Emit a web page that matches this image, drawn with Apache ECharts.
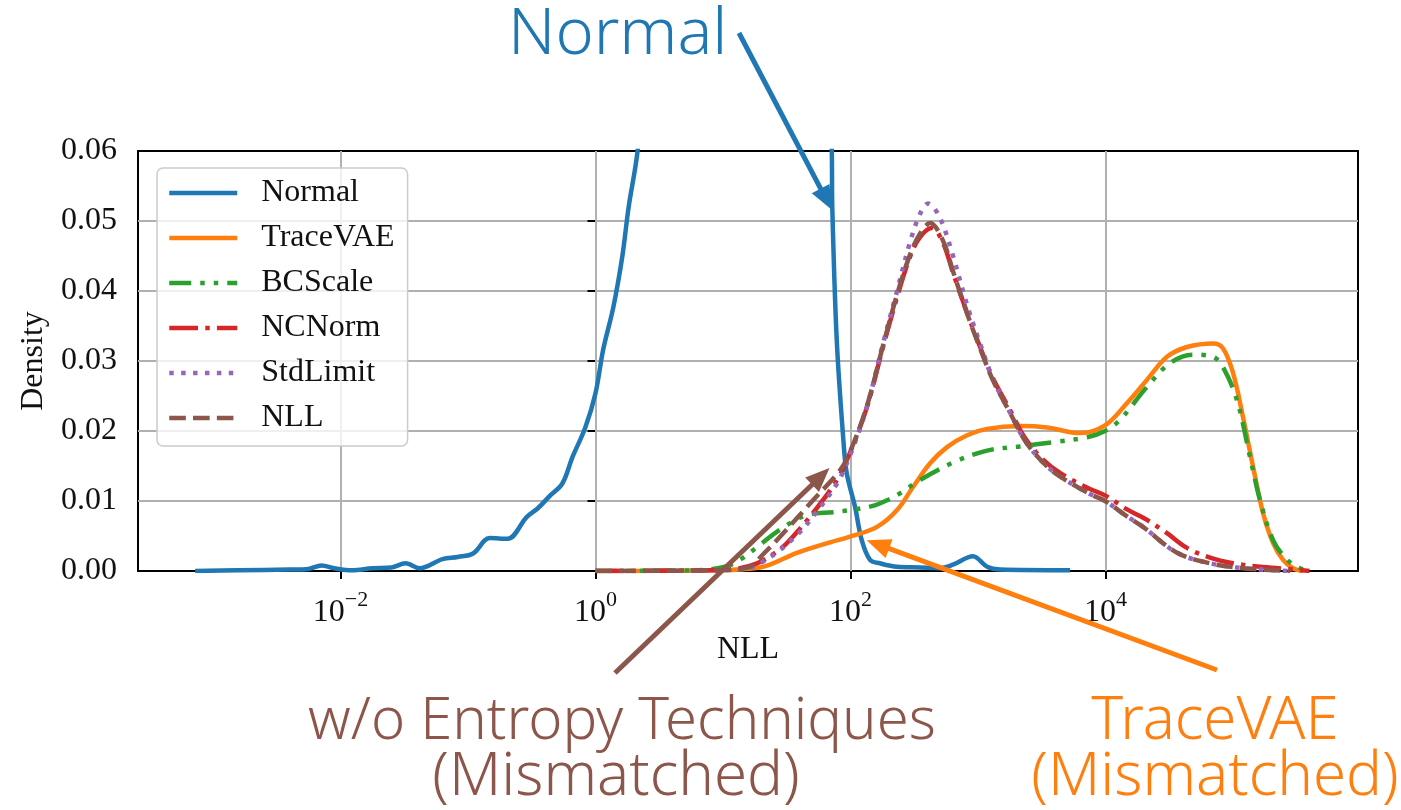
<!DOCTYPE html>
<html>
<head>
<meta charset="utf-8">
<script src="https://cdn.jsdelivr.net/npm/echarts@6/dist/echarts.min.js"></script>
<style>
  html, body { margin: 0; padding: 0; background: #fff; }
  #main { width: 1401px; height: 810px; }
</style>
</head>
<body>
<div id="main"></div>
<script>
// NLL density curves, x = log10(NLL), y = density
const xTickVals = [-2, 0, 2, 4];

const normalPts = [
  [-3.14, 0.0000], [-2.80, 0.0001], [-2.40, 0.0002], [-2.25, 0.0003], [-2.15, 0.0008],
  [-2.05, 0.0004], [-1.91, 0.0001], [-1.75, 0.0004], [-1.60, 0.0005], [-1.49, 0.0011],
  [-1.38, 0.0004], [-1.20, 0.0017], [-1.08, 0.0020], [-0.96, 0.0025], [-0.83, 0.0047],
  [-0.69, 0.0046], [-0.54, 0.0077], [-0.45, 0.0090], [-0.36, 0.0107], [-0.26, 0.0125],
  [-0.18, 0.0163], [-0.08, 0.0205], [0.00, 0.0254], [0.06, 0.0316], [0.14, 0.0377],
  [0.21, 0.0449], [0.26, 0.0520], [0.33, 0.0600], [0.55, 0.1000], [1.00, 0.1400],
  [1.50, 0.1200], [1.80, 0.0900], [1.853, 0.0600], [1.857, 0.0520], [1.892, 0.0330],
  [1.944, 0.0187], [1.970, 0.0140], [2.035, 0.0092], [2.088, 0.0044], [2.153, 0.0016],
  [2.231, 0.0011], [2.365, 0.0006], [2.545, 0.0005], [2.70, 0.0004], [2.804, 0.0009],
  [2.961, 0.0021], [3.071, 0.0006], [3.173, 0.0002], [3.722, 0.0001]
];

const traceVaePts = [
  [0.00, 0.0000], [0.90, 0.0001], [1.290, 0.0005], [1.580, 0.0026], [1.839, 0.0041],
  [1.996, 0.0049], [2.208, 0.0063], [2.365, 0.0087], [2.490, 0.0120], [2.624, 0.0154],
  [2.757, 0.0177], [2.914, 0.0194], [3.071, 0.0203], [3.329, 0.0207], [3.541, 0.0205],
  [3.800, 0.0197], [3.996, 0.0208], [4.169, 0.0240], [4.325, 0.0273], [4.482, 0.0306],
  [4.639, 0.0320], [4.843, 0.0325], [4.922, 0.0318], [5.000, 0.0283], [5.078, 0.0220],
  [5.157, 0.0149], [5.235, 0.0083], [5.314, 0.0040], [5.392, 0.0016], [5.471, 0.0004],
  [5.550, 0.0000]
];

const bcScalePts = [
  [0.00, 0.0000], [0.80, 0.0001], [1.031, 0.0007], [1.150, 0.0018], [1.267, 0.0034],
  [1.447, 0.0059], [1.659, 0.0080], [1.863, 0.0084], [1.996, 0.0087], [2.176, 0.0093],
  [2.286, 0.0101], [2.388, 0.0111], [2.545, 0.0130], [2.804, 0.0155], [3.071, 0.0172],
  [3.329, 0.0178], [3.588, 0.0184], [3.855, 0.0191], [3.996, 0.0200], [4.114, 0.0216],
  [4.325, 0.0263], [4.506, 0.0297], [4.686, 0.0309], [4.843, 0.0306], [4.922, 0.0291],
  [5.031, 0.0244], [5.133, 0.0163], [5.212, 0.0101], [5.314, 0.0044], [5.424, 0.0016],
  [5.525, 0.0004], [5.604, 0.0000]
];

const ncNormPts = [
  [0.00, 0.0000], [0.90, 0.0001], [1.10, 0.0003], [1.267, 0.0011], [1.40, 0.0025],
  [1.502, 0.0040], [1.706, 0.0083], [1.894, 0.0130], [1.996, 0.0169], [2.129, 0.0234],
  [2.255, 0.0320], [2.365, 0.0391], [2.467, 0.0449], [2.545, 0.0477], [2.639, 0.0490],
  [2.725, 0.0469], [2.804, 0.0426], [2.914, 0.0369], [3.016, 0.0320], [3.118, 0.0275],
  [3.251, 0.0230], [3.369, 0.0190], [3.510, 0.0159], [3.643, 0.0140], [3.878, 0.0117],
  [3.996, 0.0108], [4.169, 0.0088], [4.325, 0.0073], [4.482, 0.0054], [4.639, 0.0033],
  [4.820, 0.0019], [5.000, 0.0011], [5.212, 0.0006], [5.424, 0.0003], [5.600, 0.0000]
];

const stdLimitPts = [
  [0.00, 0.0000], [0.90, 0.0001], [1.20, 0.0004], [1.30, 0.0012], [1.447, 0.0030],
  [1.60, 0.0055], [1.706, 0.0078], [1.894, 0.0125], [1.996, 0.0165], [2.129, 0.0235],
  [2.255, 0.0325], [2.365, 0.0400], [2.467, 0.0470], [2.545, 0.0510], [2.608, 0.0525],
  [2.70, 0.0505], [2.804, 0.0450], [2.914, 0.0380], [3.016, 0.0325], [3.118, 0.0274],
  [3.251, 0.0226], [3.369, 0.0186], [3.510, 0.0155], [3.643, 0.0135], [3.878, 0.0110],
  [3.996, 0.0100], [4.169, 0.0078], [4.294, 0.0063], [4.561, 0.0026], [4.820, 0.0011],
  [5.078, 0.0004], [5.447, 0.0000]
];

const nllPts = [
  [0.00, 0.0000], [0.90, 0.0001], [1.196, 0.0005], [1.32, 0.0025], [1.447, 0.0049],
  [1.706, 0.0101], [1.918, 0.0144], [1.996, 0.0170], [2.129, 0.0236], [2.255, 0.0322],
  [2.365, 0.0395], [2.467, 0.0452], [2.545, 0.0482], [2.624, 0.0497], [2.725, 0.0472],
  [2.804, 0.0428], [2.914, 0.0368], [3.016, 0.0318], [3.118, 0.0272], [3.251, 0.0226],
  [3.369, 0.0186], [3.510, 0.0155], [3.643, 0.0135], [3.878, 0.0110], [3.996, 0.0100],
  [4.169, 0.0078], [4.294, 0.0063], [4.561, 0.0026], [4.820, 0.0011], [5.078, 0.0004],
  [5.447, 0.0000]
];

// annotation arrows: tip in data space, tail in pixels
const arrowTips = { normal: [1.853, 0.0516], entropy: [1.835, 0.0147], trace: [2.126, 0.0044] };
const arrowTails = { normal: [739, 33], entropy: [615, 673], trace: [1217, 670] };

const SERIF = '"Liberation Serif", "DejaVu Serif", serif';
const SANS = '"Noto Sans", "Open Sans", sans-serif';
const C = {
  blue: '#1f77b4', orange: '#ff7f0e', green: '#2ca02c',
  red: '#d62728', purple: '#9467bd', brown: '#8c564b', grid: '#b0b0b0'
};
const LW = 4.5;

function lineSeries(name, data, color, dash) {
  return {
    name, type: 'line', data,
    symbol: 'none', smooth: 0.35,
    lineStyle: { color, width: LW, type: dash, cap: 'butt', join: 'round' },
    itemStyle: { color }
  };
}

const chart = echarts.init(document.getElementById('main'));

const option = {
  animation: false,
  backgroundColor: '#fff',
  grid: {
    left: 138, right: 43, top: 151, bottom: 239,
    show: true, borderColor: '#000', borderWidth: 2, backgroundColor: 'transparent'
  },
  legend: {
    orient: 'vertical', left: 157, top: 168,
    padding: [9, 13, 12, 10],
    itemWidth: 68, itemHeight: 32, itemGap: 13,
    backgroundColor: 'rgba(255,255,255,0.8)',
    borderColor: '#cccccc', borderWidth: 1.5, borderRadius: 6,
    itemStyle: { opacity: 0, borderWidth: 0 },
    lineStyle: { width: LW },
    textStyle: { fontFamily: SERIF, fontSize: 32, color: '#111', lineHeight: 32, padding: [0, 0, 0, 19] },
    data: ['Normal', 'TraceVAE', 'BCScale', 'NCNorm', 'StdLimit', 'NLL']
  },
  xAxis: {
    type: 'value', min: -3.588, max: 5.98,
    name: 'NLL', nameLocation: 'middle', nameGap: 62,
    nameTextStyle: { fontFamily: SERIF, fontSize: 32, color: '#111' },
    axisLine: { show: true, onZero: false, lineStyle: { color: '#000', width: 2 } },
    axisTick: { show: true, customValues: xTickVals, length: 8, lineStyle: { color: '#000', width: 2 } },
    axisLabel: {
      customValues: xTickVals, margin: 18,
      formatter: v => '{b|10}{s|' + (v < 0 ? '\u2212' + (-v) : v) + '}',
      rich: {
        b: { fontFamily: SERIF, fontSize: 32, color: '#111', lineHeight: 40, verticalAlign: 'bottom' },
        s: { fontFamily: SERIF, fontSize: 22, color: '#111', lineHeight: 22, verticalAlign: 'top' }
      }
    },
    splitLine: { show: false }
  },
  yAxis: {
    type: 'value', min: 0, max: 0.06, interval: 0.01,
    name: 'Density', nameLocation: 'middle', nameGap: 88, nameRotate: 90,
    nameTextStyle: { fontFamily: SERIF, fontSize: 32, color: '#111' },
    axisLine: { show: true, lineStyle: { color: '#000', width: 2 } },
    axisTick: { show: true, length: 8, lineStyle: { color: '#000', width: 2 } },
    axisLabel: {
      margin: 21, fontFamily: SERIF, fontSize: 32, color: '#111',
      formatter: v => v.toFixed(2)
    },
    splitLine: { show: true, showMinLine: false, showMaxLine: false, lineStyle: { color: C.grid, width: 2 } }
  },
  series: [
    Object.assign(lineSeries('Normal', normalPts, C.blue, 'solid'), {
      markLine: {
        silent: true, symbol: 'none', z: 1, animation: false,
        label: { show: false },
        lineStyle: { color: C.grid, width: 2, type: 'solid' },
        data: xTickVals.map(v => ({ xAxis: v }))
      }
    }),
    lineSeries('TraceVAE', traceVaePts, C.orange, 'solid'),
    lineSeries('BCScale', bcScalePts, C.green, [22, 9, 4.5, 9, 4.5, 9]),
    lineSeries('NCNorm', ncNormPts, C.red, [28.8, 7.2, 4.5, 7.2]),
    lineSeries('StdLimit', stdLimitPts, C.purple, [4.5, 7.4]),
    lineSeries('NLL', nllPts, C.brown, [16.6, 7.2])
  ]
};

chart.setOption(option);

// arrows + annotation texts
function arrow(tail, tipData, color) {
  const tip = chart.convertToPixel({ gridIndex: 0 }, tipData);
  const dx = tip[0] - tail[0], dy = tip[1] - tail[1];
  const len = Math.sqrt(dx * dx + dy * dy);
  const ux = dx / len, uy = dy / len;
  const headLen = 24, headHalf = 10;
  const bx = tip[0] - ux * headLen, by = tip[1] - uy * headLen;
  return [
    { type: 'line', z: 20, shape: { x1: tail[0], y1: tail[1], x2: bx + ux * 2, y2: by + uy * 2 },
      style: { stroke: color, lineWidth: 5 } },
    { type: 'polygon', z: 20,
      shape: { points: [tip, [bx - uy * headHalf, by + ux * headHalf], [bx + uy * headHalf, by - ux * headHalf]] },
      style: { fill: color } }
  ];
}

function label(x, y, text, color, size, align) {
  return { type: 'text', z: 20, x, y,
    style: { text, fill: color, font: '300 ' + size + 'px ' + SANS, align: align || 'center', verticalAlign: 'middle' } };
}

chart.setOption({
  graphic: [
    ...arrow(arrowTails.normal, arrowTips.normal, C.blue),
    ...arrow(arrowTails.entropy, arrowTips.entropy, C.brown),
    ...arrow(arrowTails.trace, arrowTips.trace, C.orange),
    label(508, 35, 'Normal', C.blue, 65, 'left'),
    label(622, 722, 'w/o Entropy Techniques', C.brown, 58),
    label(616, 778, '(Mismatched)', C.brown, 60),
    label(1215, 722, 'TraceVAE', C.orange, 60),
    label(1215, 778, '(Mismatched)', C.orange, 60)
  ]
});

window.addEventListener('resize', () => chart.resize());
</script>
</body>
</html>
